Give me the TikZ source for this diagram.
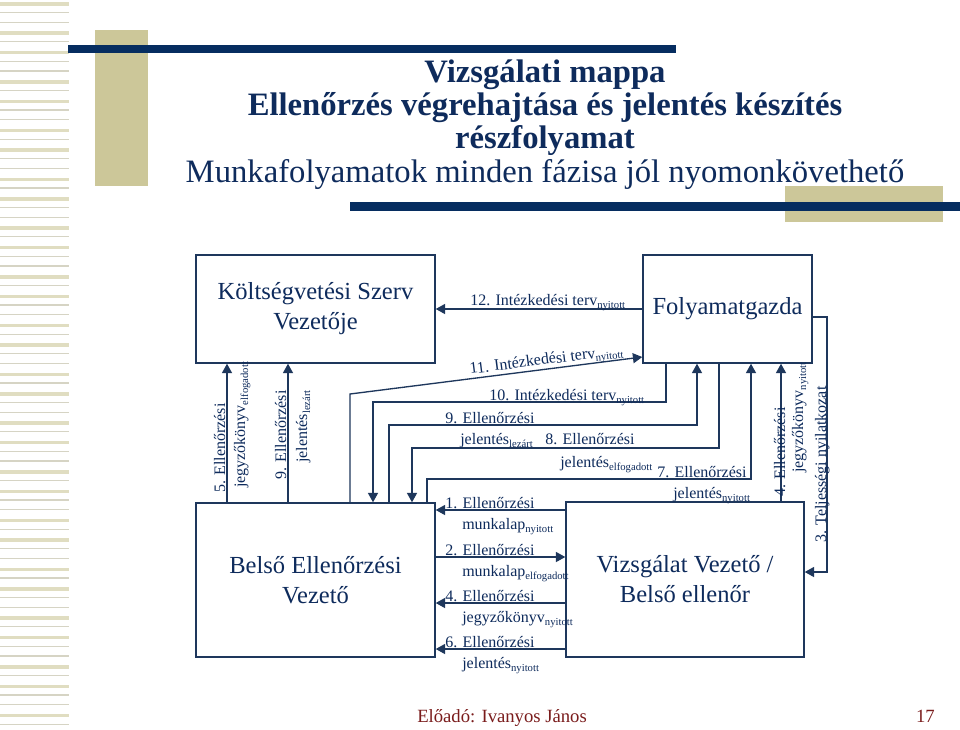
\documentclass[tikz,border=0pt]{standalone}
\usepackage{fontspec}
\setmainfont{Liberation Serif}
\usetikzlibrary{arrows.meta}
\definecolor{navy}{RGB}{14,43,92}
\definecolor{barnavy}{RGB}{6,45,96}
\definecolor{tanc}{RGB}{204,199,153}
\definecolor{linec}{RGB}{30,55,92}
\definecolor{footred}{RGB}{122,28,28}
\definecolor{stripethick}{RGB}{224,221,193}
\definecolor{stripethin}{RGB}{214,212,196}
\newcommand\sbs[1]{\raisebox{-2.3pt}{\fontsize{8}{9}\selectfont #1}}
\begin{document}
\begin{tikzpicture}[x=0.75pt,y=-0.75pt,
  box/.style={draw=linec, line width=1.1pt, inner sep=0pt, text=navy, align=center, font=\fontsize{18.4}{22.5}\selectfont},
  conn/.style={draw=linec, line width=1pt, -{Triangle[length=7pt,width=7.5pt]}},
  lbl/.style={inner sep=0pt, text=navy, anchor=base west, font=\fontsize{12}{14}\selectfont},
  vlbl/.style={lbl, rotate=90},
  ttl/.style={inner sep=0pt, text=navy, anchor=base, font=\fontsize{24.5}{26}\selectfont},
]
\useasboundingbox (0,0) rectangle (960,729);
\fill[white] (0,0) rectangle (960,729);
% left stripes
\foreach \k in {0,...,74}{
  \pgfmathsetmacro\yy{2+9.75*\k}
  \pgfmathtruncatemacro\tk{mod(7*\k,5)}
  \ifnum\tk<2
    \fill[stripethick] (0,\yy) rectangle (69,\yy+3.5);
  \else
    \fill[stripethin] (0,\yy) rectangle (69,\yy+1.3);
  \fi
}
% decorations
\fill[tanc] (95,30) rectangle (148,186);
\fill[tanc] (785,186) rectangle (943,222);
\fill[barnavy] (68,45) rectangle (676,53);
\fill[barnavy] (350,202) rectangle (960,211);
% title
\node[ttl] (t1) at (545,82) {\bfseries Vizsgálati mappa};
\node[ttl] (t2) at (545,115) {\bfseries Ellenőrzés végrehajtása és jelentés készítés};
\node[ttl] (t3) at (545,148) {\bfseries részfolyamat};
\node[ttl] (t4) at (545,182) {Munkafolyamatok minden fázisa jól nyomonkövethető};
% boxes
\node[box, minimum width=179.25pt, minimum height=81pt] (KSZV) at (315.5,309) {Költségvetési Szerv\\Vezetője};
\node[box, minimum width=126.75pt, minimum height=81pt] (F) at (727.5,309) {Folyamatgazda};
\node[box, minimum width=179.25pt, minimum height=115.5pt] (BEV) at (315.5,580) {Belső Ellenőrzési\\Vezető};
\node[box, minimum width=178.5pt, minimum height=116.25pt] (VV) at (685,579.5) {Vizsgálat Vezető /\\Belső ellenőr};
% connectors
\draw[conn] (F.west) -- (KSZV.east);
\draw[conn] (350,0 |- BEV.north) -- (350,394) -- (F.west |- 0,357);
\draw[conn] (666,0 |- F.south) -- (666,402) -- (373,402) -- (373,0 |- BEV.north);
\draw[conn] (389,0 |- BEV.north) -- (389,425) -- (697,425) -- (697,0 |- F.south);
\draw[conn] (719,0 |- F.south) -- (719,448) -- (412,448) -- (412,0 |- BEV.north);
\draw[conn] (427,0 |- BEV.north) -- (427,479) -- (751,479) -- (751,0 |- F.south);
\draw[conn] (781,0 |- VV.north) -- (781,0 |- F.south);
\draw[conn] (F.east |- 0,317) -- (827,317) -- (827,572) -- (VV.east |- 0,572);
\draw[conn] (227,0 |- BEV.north) -- (227,0 |- KSZV.south);
\draw[conn] (288,0 |- BEV.north) -- (288,0 |- KSZV.south);
\draw[conn] (VV.west |- 0,510) -- (BEV.east |- 0,510);
\draw[conn] (BEV.east |- 0,557) -- (VV.west |- 0,557);
\draw[conn] (VV.west |- 0,603) -- (BEV.east |- 0,603);
\draw[conn] (VV.west |- 0,649) -- (BEV.east |- 0,649);
% labels
\node[lbl] (l12) at (470,305) {12. Intézkedési terv\sbs{nyitott}};
\node[lbl, rotate=7.2] (l11) at (470,374) {11. Intézkedési terv\sbs{nyitott}};
\node[lbl] (l10) at (489,400) {10. Intézkedési terv\sbs{nyitott}};
\node[lbl] (l9a) at (445,423) {9. Ellenőrzési};
\node[lbl] (l9b) at (460,444) {jelentés\sbs{lezárt}};
\node[lbl] (l8a) at (545,444) {8. Ellenőrzési};
\node[lbl] (l8b) at (560,467) {jelentés\sbs{elfogadott}};
\node[lbl] (l7a) at (657,477) {7. Ellenőrzési};
\node[lbl] (l7b) at (673,498) {jelentés\sbs{nyitott}};
\node[lbl] (l1a) at (445,508) {1. Ellenőrzési};
\node[lbl] (l1b) at (462,529) {munkalap\sbs{nyitott}};
\node[lbl] (l2a) at (445,555) {2. Ellenőrzési};
\node[lbl] (l2b) at (462,576) {munkalap\sbs{elfogadott}};
\node[lbl] (l4a) at (445,601) {4. Ellenőrzési};
\node[lbl] (l4b) at (462,622) {jegyzőkönyv\sbs{nyitott}};
\node[lbl] (l6a) at (445,647) {6. Ellenőrzési};
\node[lbl] (l6b) at (462,668) {jelentés\sbs{nyitott}};
\node[vlbl] (l5a) at (225,493) {5. Ellenőrzési};
\node[vlbl] (l5b) at (245,488) {jegyzőkönyv\sbs{elfogadott}};
\node[vlbl] (l9la) at (286,480) {9. Ellenőrzési};
\node[vlbl] (l9lb) at (307,463) {jelentés\sbs{lezárt}};
\node[vlbl] (l4va) at (785,497) {4. Ellenőrzési};
\node[vlbl] (l4vb) at (803,473) {jegyzőkönyv\sbs{nyitott}};
\node[vlbl] (l3) at (826,543) {3. Teljességi nyilatkozat};
% footer
\node[inner sep=0pt, anchor=base west, text=footred, font=\fontsize{14}{16}\selectfont] (foot) at (417,722) {Előadó: Ivanyos János};
\node[inner sep=0pt, anchor=base east, text=footred, font=\fontsize{14}{16}\selectfont] (pg) at (935,722) {17};
\end{tikzpicture}
\end{document}
